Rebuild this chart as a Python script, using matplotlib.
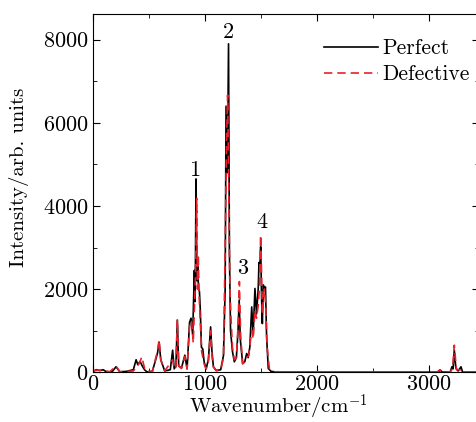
import matplotlib
matplotlib.use("Agg")
import matplotlib.pyplot as plt
from matplotlib.ticker import MultipleLocator

plt.rcParams['font.family'] = 'serif'
plt.rcParams['font.serif'] = ['cmr10']
plt.rcParams['mathtext.fontset'] = 'cm'
plt.rcParams['axes.formatter.use_mathtext'] = True

# Perfect spectrum (wavenumber, intensity)
wn_perfect = [0, 30, 60, 90, 120, 170, 205, 240, 300, 360, 385, 400, 420, 440, 460, 480,
              530, 575, 590, 605, 640, 690, 711, 725, 740, 753, 765, 790, 820, 840,
              862, 875, 890, 905, 912, 920, 928, 935, 942, 950, 958, 968, 980, 992,
              1010, 1030, 1050, 1062, 1075, 1100, 1140, 1165, 1180, 1188, 1200, 1210,
              1218, 1228, 1245, 1262, 1280, 1295, 1305, 1315, 1336, 1355, 1372, 1385,
              1400, 1417, 1430, 1446, 1460, 1475, 1482, 1490, 1497, 1505, 1512, 1521,
              1530, 1540, 1550, 1565, 1590, 1650, 3080, 3100, 3120, 3190, 3205, 3215,
              3226, 3240, 3260, 3286, 3300, 3450]
int_perfect = [20, 60, 40, 60, 10, 10, 130, 10, 20, 60, 300, 180, 260, 150, 60, 10,
               20, 450, 720, 300, 30, 60, 530, 80, 150, 1250, 150, 100, 410, 80,
               1200, 1300, 900, 2450, 1700, 4650, 2200, 2600, 2000, 1950, 1500, 600, 560, 250,
               80, 300, 1090, 500, 130, 40, 60, 400, 2000, 6400, 4800, 7900,
               2900, 1000, 500, 250, 350, 1000, 1735, 800, 210, 250, 450, 350,
               600, 1570, 900, 2015, 1400, 2000, 2640, 2500, 3020, 1800, 1170, 2100,
               2000, 2050, 850, 90, 20, 0, 0, 50, 0, 10, 130, 80,
               530, 100, 30, 130, 0, 0]

# Defective spectrum
wn_defect = [0, 40, 100, 150, 205, 240, 360, 400, 420, 435, 460, 480, 530, 575, 590,
             605, 640, 711, 725, 740, 753, 765, 790, 820, 840, 862, 880, 895, 905,
             915, 926, 933, 940, 948, 958, 970, 992, 1010, 1030, 1050, 1062, 1075,
             1100, 1140, 1165, 1180, 1192, 1202, 1212, 1222, 1232, 1245, 1262, 1280,
             1295, 1307, 1318, 1336, 1355, 1372, 1390, 1417, 1430, 1446, 1460, 1475,
             1485, 1497, 1505, 1512, 1521, 1530, 1540, 1555, 1575, 1620, 3070, 3098,
             3120, 3190, 3210, 3226, 3245, 3280, 3300, 3450]
int_defect = [30, 50, 40, 10, 150, 10, 30, 150, 250, 370, 100, 10, 20, 500, 780,
              300, 30, 300, 80, 120, 1270, 150, 90, 380, 80, 1100, 1250, 700, 1500,
              2300, 4180, 2000, 2820, 1800, 1200, 500, 200, 80, 250, 1000, 400, 130,
              40, 50, 350, 3000, 5500, 6670, 4500, 2050, 1300, 600, 300, 350,
              1100, 2180, 900, 200, 250, 350, 400, 1000, 800, 1500, 1300, 1600,
              2000, 3300, 2400, 1400, 1800, 2000, 1700, 600, 80, 10, 0, 60,
              0, 10, 80, 650, 60, 60, 0, 0]

peak_labels = ['1', '2', '3', '4']
label_wn = [911, 1205, 1339, 1509]
label_int = [4870, 8170, 2500, 3610]

fig = plt.figure(figsize=(4.77, 4.22), dpi=100)
ax = fig.add_axes([0.195, 0.118, 0.81, 0.849])

ax.plot(wn_perfect, int_perfect, color='black', lw=1.2, label='Perfect')
ax.plot(wn_defect, int_defect, color='#e8202a', lw=1.2, ls=(0, (5, 3)), label='Defective')

for t, xw, yi in zip(peak_labels, label_wn, label_int):
    ax.text(xw, yi, t, fontsize=16, ha='center', va='center')

ax.set_xlim(0, 3450)
ax.set_ylim(0, 8620)
ax.xaxis.set_major_locator(MultipleLocator(1000))
ax.xaxis.set_minor_locator(MultipleLocator(500))
ax.yaxis.set_major_locator(MultipleLocator(2000))
ax.yaxis.set_minor_locator(MultipleLocator(1000))
ax.tick_params(which='both', direction='in', top=True, right=True, labelsize=16)
ax.tick_params(which='major', length=5)
ax.tick_params(which='minor', length=3)
ax.tick_params(axis='x', pad=2)

ax.set_xlabel(r'Wavenumber/cm$^{-1}$', fontsize=15)
ax.set_ylabel('Intensity/arb. units', fontsize=15)
ax.xaxis.set_label_coords(0.48, -0.058)
ax.yaxis.set_label_coords(-0.165, 0.543)

ax.legend(loc='upper right', frameon=False, fontsize=15.5, handlelength=2.5,
          handletextpad=0.23, labelspacing=0.3, borderaxespad=0.0,
          bbox_to_anchor=(0.998, 0.955))

fig.savefig('out.png', dpi=100)
